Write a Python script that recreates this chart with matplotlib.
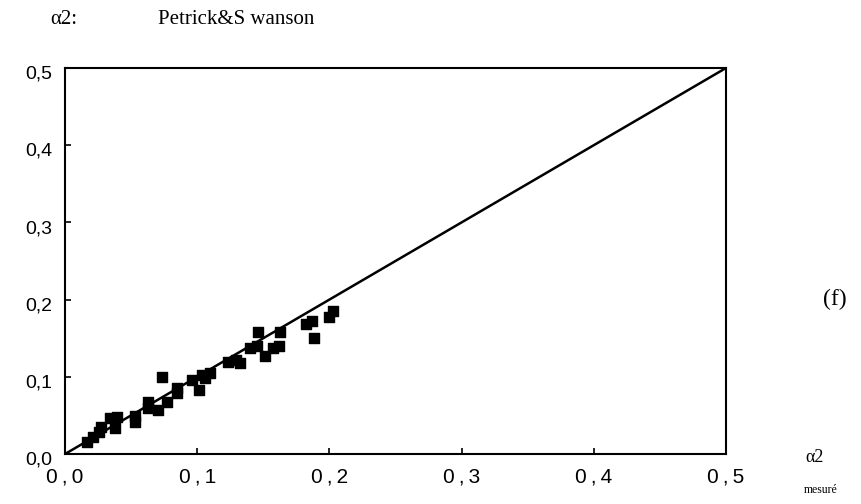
import matplotlib.pyplot as plt
import matplotlib.transforms as mtransforms

# alpha2 measured vs alpha2 predicted (Petrick & Swanson)
mesure = [0.017, 0.021, 0.026, 0.027, 0.034, 0.039, 0.038, 0.053, 0.053, 0.063,
          0.063, 0.070, 0.073, 0.077, 0.085, 0.085, 0.096, 0.101, 0.104, 0.110,
          0.106, 0.123, 0.129, 0.132, 0.140, 0.145, 0.146, 0.151, 0.157, 0.162,
          0.163, 0.182, 0.187, 0.188, 0.200, 0.203]
calcule = [0.016, 0.022, 0.029, 0.035, 0.047, 0.048, 0.034, 0.049, 0.041, 0.067,
           0.060, 0.057, 0.100, 0.067, 0.085, 0.079, 0.096, 0.083, 0.102, 0.105,
           0.099, 0.119, 0.122, 0.118, 0.137, 0.140, 0.158, 0.127, 0.137, 0.140,
           0.158, 0.168, 0.172, 0.150, 0.177, 0.185]
ticks = [0.0, 0.1, 0.2, 0.3, 0.4, 0.5]
ylabels = ["0,0", "0,1", "0,2", "0,3", "0,4", "0,5"]
xlabels = ["0\u2009,\u20090", "0\u2009,\u20091", "0\u2009,\u20092",
           "0\u2009,\u20093", "0\u2009,\u20094", "0\u2009,\u20095"]

sans = ["Liberation Sans", "DejaVu Sans"]
serif = ["Liberation Serif", "DejaVu Serif"]

fig = plt.figure(figsize=(8.61, 5.04), dpi=100)
ax = fig.add_axes([0.0755, 0.0992, 0.7677, 0.7659])

ax.plot([0, 0.5], [0, 0.5], color="black", lw=1.8)
ax.scatter(mesure, calcule, marker="s", s=42, color="black", zorder=3)

ax.set_xlim(0, 0.5)
ax.set_ylim(0, 0.5)
ax.set_xticks(ticks)
ax.set_yticks(ticks)
ax.set_xticklabels(xlabels, fontsize=15, family=sans)
ax.set_yticklabels(ylabels, fontsize=14, family=sans)
ax.tick_params(axis="x", direction="in", length=4, width=1.2, pad=10)
ax.tick_params(axis="y", direction="in", length=4, width=1.2, pad=9)
shift = mtransforms.ScaledTranslation(0, -3 / 72, fig.dpi_scale_trans)
for lab in ax.get_yticklabels():
    lab.set_transform(lab.get_transform() + shift)
for s in ax.spines.values():
    s.set_linewidth(1.5)

fig.text(0.058, 0.962, "α2:", fontsize=15, family=serif, va="center")
fig.text(0.183, 0.962, "Petrick&S wanson", fontsize=15, family=serif, va="center")
fig.text(0.970, 0.405, "(f)", fontsize=17, family=serif, ha="center", va="center")
fig.text(0.946, 0.093, "α2", fontsize=13, family=serif, ha="center", va="center")
fig.text(0.953, 0.027, "mesuré", fontsize=8.5, family=serif, ha="center", va="center")

fig.savefig("out.png", dpi=100)
